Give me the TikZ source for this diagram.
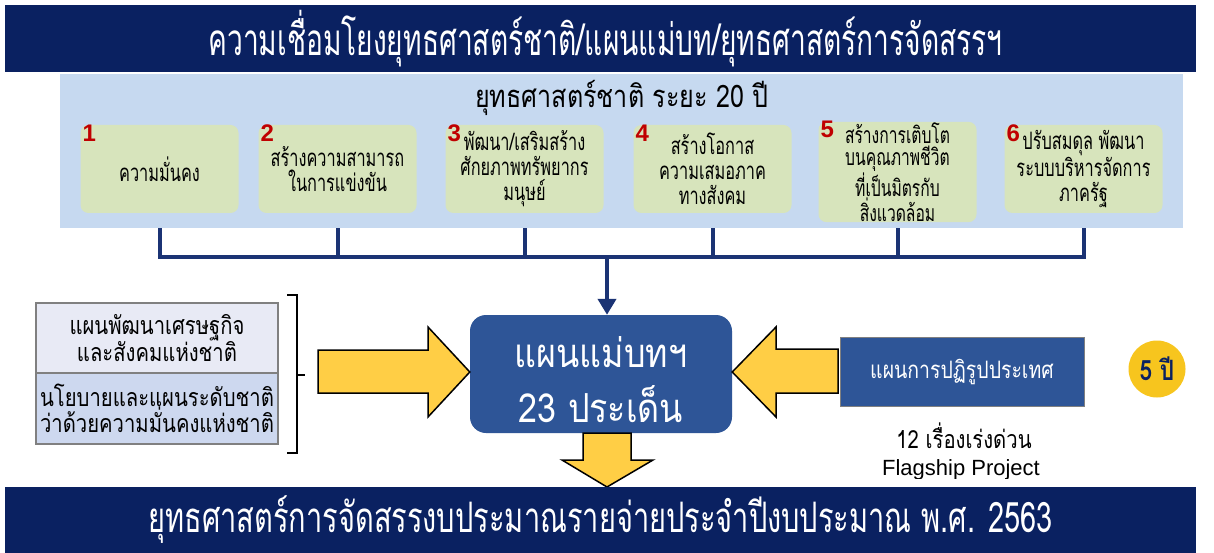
\documentclass[tikz,border=0pt]{standalone}
\usepackage{fontspec}
\setmainfont{Liberation Sans}
\newfontfamily\thai[Script=Thai]{Loma}
\newfontfamily\thaiban[Script=Thai,FakeStretch=0.64]{Loma}
\newfontfamily\thaibanb[Script=Thai,FakeStretch=0.69]{Loma}
\newfontfamily\thaibox[Script=Thai,FakeStretch=0.68]{Loma}
\newfontfamily\thaimid[Script=Thai,FakeStretch=0.81]{Loma}
\newfontfamily\thaiwide[Script=Thai,FakeStretch=0.85]{Loma}
\usetikzlibrary{arrows.meta,calc}
\definecolor{navy}{HTML}{0A2161}
\definecolor{connblue}{HTML}{1B3374}
\definecolor{panelblue}{HTML}{C6D9F0}
\definecolor{goalgreen}{HTML}{D7E4BC}
\definecolor{numred}{HTML}{C00000}
\definecolor{mainblue}{HTML}{2E5597}
\definecolor{ayellow}{HTML}{FFCE45}
\definecolor{lava}{HTML}{E8EAF5}
\definecolor{lavb}{HTML}{CDD8EF}
\definecolor{boxgray}{HTML}{808080}
\definecolor{gold}{HTML}{F7C51E}
\tikzset{
  banner/.style={fill=navy, minimum width=1191pt, inner sep=0pt, text=white,
    font=\thaiban\fontsize{44}{48}\selectfont},
  panelbox/.style={fill=panelblue, minimum width=1123pt, minimum height=154pt, inner sep=0pt},
  goal/.style={fill=goalgreen, rounded corners=8pt, minimum width=158pt, minimum height=88pt,
    align=center, inner sep=1pt, font=\thaibox\fontsize{24}{25}\selectfont},
  num/.style={text=numred, inner sep=0pt, font=\bfseries\fontsize{24}{24}\selectfont},
  conn/.style={draw=connblue, line width=4pt},
  yarrow/.style={fill=ayellow, draw=black, line width=1.5pt, line join=miter},
  lbox/.style={draw=boxgray, line width=1.5pt, minimum width=242pt, align=center, inner sep=0pt,
    font=\thaimid\fontsize{25}{26}\selectfont},
  mainbox/.style={fill=mainblue, rounded corners=16pt, minimum width=262pt, minimum height=118pt,
    inner sep=0pt},
  maintext/.style={align=center, text=white, inner sep=0pt, font=\thaiwide\fontsize{40}{55}\selectfont},
  rbox/.style={fill=mainblue, draw=boxgray, line width=1pt, minimum width=244pt, minimum height=69pt,
    text=white, inner sep=0pt, font=\thaimid\fontsize{24}{26}\selectfont},
  plain/.style={inner sep=0pt, font=\thaimid\fontsize{25}{28}\selectfont},
}
\begin{document}
\begin{tikzpicture}[x=1pt,y=-1pt]
\useasboundingbox (0,0) rectangle (1214,553);
\fill[white] (0,0) rectangle (1214,553);

% top banner
\node[banner, minimum height=67pt] (top) at (600.5,38.5) {\hspace*{10pt}ความเชื่อมโยงยุทธศาสตร์ชาติ/แผนแม่บท/ยุทธศาสตร์การจัดสรรฯ};

% panel of national strategy
\node[panelbox] (panel) at (621.5,151) {};
\node[inner sep=0pt, font=\thaimid\fontsize{31}{32}\selectfont] (ptitle) at (622,98) {ยุทธศาสตร์ชาติ ระยะ 20 ปี};

\node[goal] (g1) at (159.5,169) {ความมั่นคง};
\node[goal] (g2) at (337.5,169) {สร้างความสามารถ\\ในการแข่งขัน};
\node[goal] (g3) at (524.5,169) {พัฒนา/เสริมสร้าง\\ศักยภาพทรัพยากร\\มนุษย์};
\node[goal] (g4) at (712.5,169) {สร้างโอกาส\\ความเสมอภาค\\ทางสังคม};
\node[goal, font=\thaibox\fontsize{23}{22}\selectfont] (g5) at (897.5,172) {สร้างการเติบโต\\บนคุณภาพชีวิต\\ที่เป็นมิตรกับ\\สิ่งแวดล้อม};
\node[goal] (g6) at (1083.5,169) {ปรับสมดุล พัฒนา\\ระบบบริหารจัดการ\\ภาครัฐ};

\foreach \g/\n in {g1/1,g2/2,g3/3,g4/4,g5/5,g6/6}
  \node[num] (n\n) at ($(\g.north west)+(9,8)$) {\n};

% connectors from goals to master plan
\coordinate (hub) at (607,257);
\draw[conn, line join=miter] (g1.south |- panel.south) -- (g1.south |- hub) -- (g6.south |- hub) -- (g6.south |- panel.south);
\foreach \g in {g2,g3,g4,g5}
  \draw[conn] (\g.south |- panel.south) -- (\g.south |- hub);

% master plan
\node[mainbox] (main) at (601,374) {};
\node[maintext] (mtext) at (601,380) {แผนแม่บทฯ\\23 ประเด็น};
\draw[conn, -{Triangle[width=18pt,length=16pt]}] (hub) -- (hub |- main.north);

% left boxes
\node[lbox, fill=lava, minimum height=70pt] (la) at (157,338) {แผนพัฒนาเศรษฐกิจ\\และสังคมแห่งชาติ};
\node[lbox, fill=lavb, minimum height=71pt] (lb) at (157,408.5) {นโยบายและแผนระดับชาติ\\ว่าด้วยความมั่นคงแห่งชาติ};
\draw[line width=2pt] (287,295) -- (297,295) -- (297,453) -- (287,453);
\draw[line width=2pt] (297,375) -- (305,375);

% yellow block arrows
\fill[yarrow] (318,350) -- (428,350) -- (428,327) -- (main.west |- 0,372) -- (428,417) -- (428,393) -- (318,393) -- cycle;
\fill[yarrow] (838,349) -- (776,349) -- (776,327) -- (main.east |- 0,372) -- (776,417) -- (776,393) -- (838,393) -- cycle;
\fill[yarrow] (583,433) -- (631,433) -- (631,460) -- (653,460) -- (607,487) -- (562,460) -- (583,460) -- cycle;

% reform plan
\node[rbox] (reform) at (962,371.5) {แผนการปฏิรูปประเทศ};
\node[plain] (urgent) at (964,436) {12 เรื่องเร่งด่วน};
\begin{scope}
\clip (830,458) rectangle (1100,478);
\node[inner sep=0pt, font=\fontsize{22}{24}\selectfont] (flag) at (961,470) {Flagship Project};
\end{scope}

% five years
\node[circle, fill=gold, minimum size=57pt, inner sep=0pt, text=navy,
  font=\thaimid\bfseries\fontsize{28}{28}\selectfont] (five) at (1157,369) {5 ปี};

% bottom banner
\node[banner, minimum height=66pt, font=\thaibanb\fontsize{42}{46}\selectfont] (bottom) at (600.5,520) {ยุทธศาสตร์การจัดสรรงบประมาณรายจ่ายประจำปีงบประมาณ พ.ศ. 2563};
\end{tikzpicture}
\end{document}
